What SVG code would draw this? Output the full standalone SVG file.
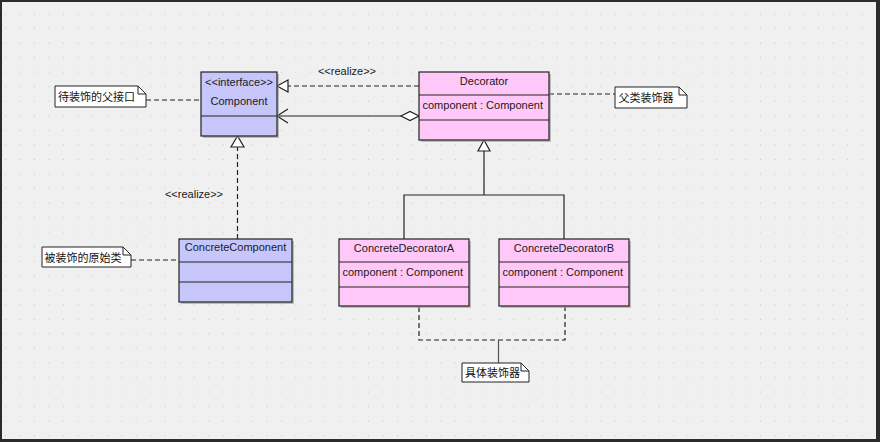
<svg xmlns="http://www.w3.org/2000/svg" width="880" height="442" viewBox="0 0 880 442">
<defs>
<pattern id="dots" x="5" y="13.5" width="14.52" height="14.54" patternUnits="userSpaceOnUse">
<rect x="0" y="0" width="1" height="1" fill="#c4c4c4"/>
</pattern>
<style>
.t{font-family:"Liberation Sans",Arial,sans-serif;font-size:11px;fill:#1a1a1a}
.c{font-family:"Liberation Sans","Noto Sans CJK SC",sans-serif;font-size:11px;fill:#111}
.box{stroke:#222;stroke-width:1.2}
.blue{fill:#c6c6fa}
.pink{fill:#ffc8f8}
.sh{fill:#9a9a9a;opacity:0.6}
.div{stroke:#222;stroke-width:1.2}
.dash{fill:none;stroke:#222;stroke-width:1.2;stroke-dasharray:5,3}
.solid{fill:none;stroke:#222;stroke-width:1.2}
.note{fill:#fff;stroke:#222;stroke-width:1}
</style>
</defs>
<rect x="0" y="0" width="880" height="442" fill="#2b2b2b"/>
<rect x="2" y="2" width="874" height="437" fill="#f0f0f0"/>
<rect x="2" y="2" width="874" height="437" fill="url(#dots)"/>

<g id="connectors">
<!-- realize Decorator -> Component -->
<line class="dash" x1="419" y1="86" x2="288" y2="86"/>
<polygon points="277,86 288,80 288,92" fill="#fff" stroke="#222" stroke-width="1.2"/>
<text class="t" x="347" y="75" text-anchor="middle" font-size="10">&lt;&lt;realize&gt;&gt;</text>
<!-- aggregation -->
<line class="solid" x1="277" y1="116" x2="401" y2="116"/>
<polyline class="solid" points="288,109 277,116 288,123"/>
<polygon points="401,116 410,111.5 419,116 410,120.5" fill="#fff" stroke="#222" stroke-width="1.2"/>
<!-- realize ConcreteComponent -> Component -->
<line class="dash" x1="237.5" y1="239" x2="237.5" y2="147"/>
<polygon points="237.5,136 231,147 244,147" fill="#fff" stroke="#222" stroke-width="1.2"/>
<text class="t" x="194" y="198" text-anchor="middle" font-size="10">&lt;&lt;realize&gt;&gt;</text>
<!-- generalization -->
<polyline class="solid" points="404,239 404,195 564,195 564,239"/>
<line class="solid" x1="484" y1="195" x2="484" y2="151"/>
<polygon points="484,140 478,151 490,151" fill="#fff" stroke="#222" stroke-width="1.2"/>
<!-- note links -->
<line class="dash" x1="146" y1="100" x2="201" y2="100"/>
<line class="dash" x1="549" y1="94" x2="615" y2="94"/>
<line class="dash" x1="131" y1="260" x2="179" y2="260"/>
<polyline class="dash" points="419,307 419,340 565,340 565,307"/>
<line x1="498.5" y1="340" x2="498.5" y2="363" stroke="#555" stroke-width="1.2"/>
</g>

<g id="Component">
<rect class="sh" x="203" y="74" width="76" height="64"/>
<rect class="box blue" x="201" y="72" width="76" height="64"/>
<line class="div" x1="201" y1="116" x2="277" y2="116"/>
<text class="t" x="239" y="86" text-anchor="middle">&lt;&lt;interface&gt;&gt;</text>
<text class="t" x="239" y="104.5" text-anchor="middle">Component</text>
</g>

<g id="Decorator">
<rect class="sh" x="421" y="74" width="130" height="68"/>
<rect class="box pink" x="419" y="72" width="130" height="68"/>
<line class="div" x1="419" y1="95" x2="549" y2="95"/>
<line class="div" x1="419" y1="120" x2="549" y2="120"/>
<text class="t" x="484" y="84.5" text-anchor="middle">Decorator</text>
<text class="t" x="422.5" y="109">component : Component</text>
</g>

<g id="ConcreteComponent">
<rect class="sh" x="181" y="241" width="113" height="63"/>
<rect class="box blue" x="179" y="239" width="113" height="63"/>
<line class="div" x1="179" y1="262" x2="292" y2="262"/>
<line class="div" x1="179" y1="282" x2="292" y2="282"/>
<text class="t" x="235.5" y="250.5" text-anchor="middle">ConcreteComponent</text>
</g>

<g id="ConcreteDecoratorA">
<rect class="sh" x="341" y="241" width="130" height="67"/>
<rect class="box pink" x="339" y="239" width="130" height="67"/>
<line class="div" x1="339" y1="262" x2="469" y2="262"/>
<line class="div" x1="339" y1="287" x2="469" y2="287"/>
<text class="t" x="404" y="252" text-anchor="middle">ConcreteDecoratorA</text>
<text class="t" x="342.5" y="275.5">component : Component</text>
</g>

<g id="ConcreteDecoratorB">
<rect class="sh" x="501" y="241" width="130" height="67"/>
<rect class="box pink" x="499" y="239" width="130" height="67"/>
<line class="div" x1="499" y1="262" x2="629" y2="262"/>
<line class="div" x1="499" y1="287" x2="629" y2="287"/>
<text class="t" x="564" y="252" text-anchor="middle">ConcreteDecoratorB</text>
<text class="t" x="502.5" y="275.5">component : Component</text>
</g>

<g id="note1">
<path class="note" d="M55,86 H138 L146,94 V107 H55 Z"/>
<path d="M138,86 V94 H146" fill="none" stroke="#222" stroke-width="1"/>
<text class="c" x="58" y="101">待装饰的父接口</text>
</g>

<g id="note2">
<path class="note" d="M615,87 H679 L687,95 V108 H615 Z"/>
<path d="M679,87 V95 H687" fill="none" stroke="#222" stroke-width="1"/>
<text class="c" x="618.5" y="101.5">父类装饰器</text>
</g>

<g id="note3">
<path class="note" d="M42,247 H123 L131,255 V267 H42 Z"/>
<path d="M123,247 V255 H131" fill="none" stroke="#222" stroke-width="1"/>
<text class="c" x="44.5" y="261.5">被装饰的原始类</text>
</g>

<g id="note4">
<path class="note" d="M462,363 H521 L529,371 V382 H462 Z"/>
<path d="M521,363 V371 H529" fill="none" stroke="#222" stroke-width="1"/>
<text class="c" x="465" y="377">具体装饰器</text>
</g>
</svg>
